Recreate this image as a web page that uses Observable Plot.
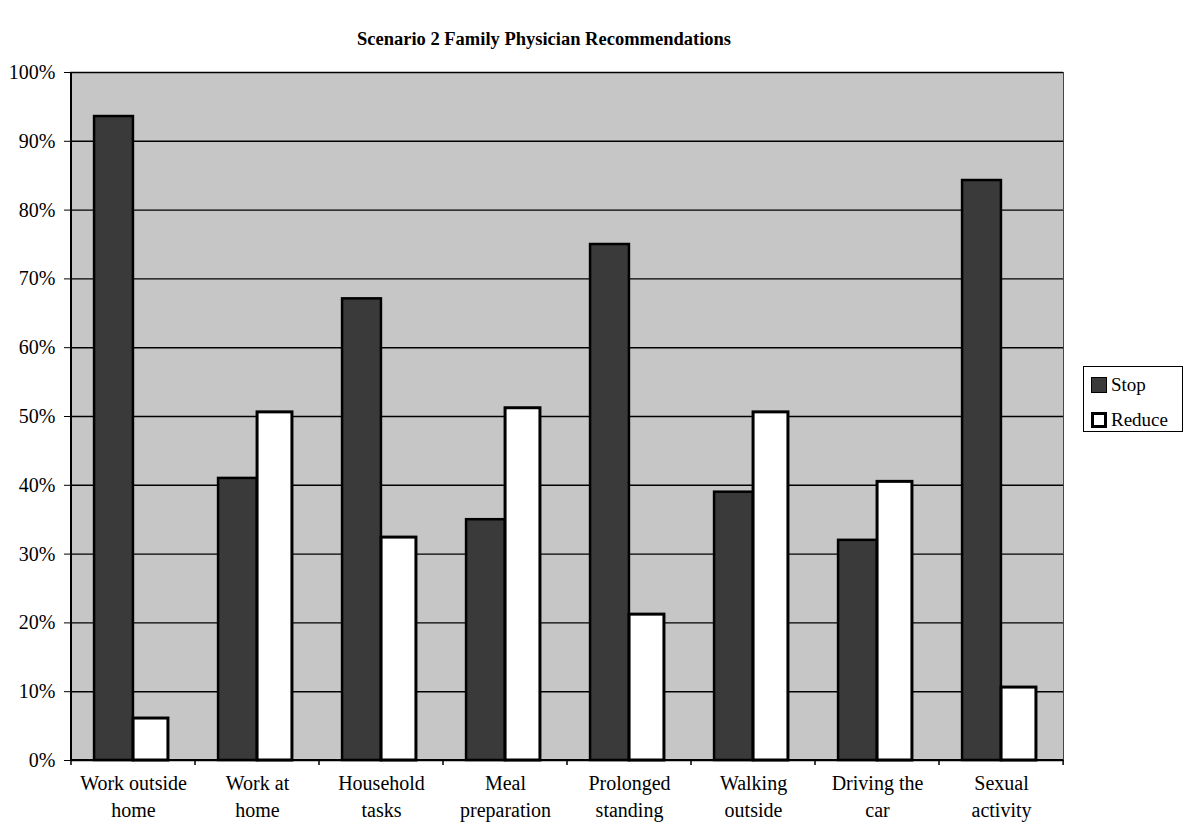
<!DOCTYPE html>
<html>
<head>
<meta charset="utf-8">
<script src="https://cdn.jsdelivr.net/npm/d3@7"></script>
<script src="https://cdn.jsdelivr.net/npm/@observablehq/plot@0.6"></script>
<style>
  body { margin: 0; background: #fff; font-family: "Liberation Serif", "Times New Roman", serif; color: #000; }
  #wrap { position: relative; width: 1191px; height: 834px; }
  #title { position: absolute; left: 0; width: 1088px; top: 29px; text-align: center; font-weight: bold; font-size: 18.5px; }
  #chart { position: absolute; top: 50px; left: 0; }
  #legend { position: absolute; left: 1083px; top: 366px; width: 100px; height: 66px; border: 1px solid #000; background: #fff; box-sizing: border-box; font-size: 19px; }
  .item { position: absolute; left: 7px; display: flex; align-items: center; line-height: 20px; }
  .sw { width: 16px; height: 16px; box-sizing: border-box; margin-right: 4px; }
</style>
</head>
<body>
<div id="wrap">
  <div id="title">Scenario 2 Family Physician Recommendations</div>
  <div id="chart"></div>
  <div id="legend"></div>
</div>
<script>
// Activities (x categories) and the share of physicians recommending each action
const categories = [
  "Work outside\nhome", "Work at\nhome", "Household\ntasks", "Meal\npreparation",
  "Prolonged\nstanding", "Walking\noutside", "Driving the\ncar", "Sexual\nactivity"
];
const stopValues   = [0.936, 0.410, 0.671, 0.350, 0.750, 0.390, 0.320, 0.843];
const reduceValues = [0.061, 0.506, 0.324, 0.512, 0.212, 0.506, 0.405, 0.106];
const seriesNames  = ["Stop", "Reduce"];
const seriesFills  = ["#3a3a3a", "#ffffff"];
const yTicks = [0, 0.1, 0.2, 0.3, 0.4, 0.5, 0.6, 0.7, 0.8, 0.9, 1.0];

const rows = categories.map((c, i) => ({category: c, stop: stopValues[i], reduce: reduceValues[i]}));

const W = 1191, H = 784, mL = 70, mR = 128, mT = 22, mB = 74;
const bw = (W - mL - mR) / categories.length;

// Axis lines plus tick marks on the category boundaries
function axisFrame(index, scales) {
  const {x, y} = scales;
  const g = d3.create("svg:g").attr("stroke", "#000").attr("fill", "none");
  const y0 = y(0), y1 = y(1);
  const edges = categories.map(c => x(c)).concat([x(categories[categories.length - 1]) + bw]);
  g.append("line").attr("x1", edges[0]).attr("x2", edges[0]).attr("y1", y1).attr("y2", y0).attr("stroke-width", 2);
  g.append("line").attr("x1", edges[0]).attr("x2", edges[edges.length - 1]).attr("y1", y0).attr("y2", y0).attr("stroke-width", 2);
  for (const e of edges) {
    g.append("line").attr("x1", e).attr("x2", e).attr("y1", y0).attr("y2", y0 + 5).attr("stroke-width", 1.5);
  }
  return g.node();
}

const chart = Plot.plot({
  width: W, height: H,
  marginLeft: mL, marginRight: mR, marginTop: mT, marginBottom: mB,
  style: {fontFamily: "'Liberation Serif', 'Times New Roman', serif", fontSize: "20px", color: "#000", background: "transparent", overflow: "visible"},
  x: {domain: categories, padding: 0},
  y: {domain: [0, 1]},
  marks: [
    Plot.frame({fill: "#c6c6c6", stroke: "#444", strokeWidth: 1}),
    Plot.gridY(yTicks, {stroke: "#000", strokeOpacity: 1, strokeWidth: 1.4}),
    Plot.barY(rows, {x: "category", y: "stop", fill: seriesFills[0], stroke: "#000", strokeWidth: 2.5,
      insetLeft: bw / 2 - 39, insetRight: bw / 2}),
    Plot.barY(rows, {x: "category", y: "reduce", fill: seriesFills[1], stroke: "#000", strokeWidth: 3,
      insetLeft: bw / 2, insetRight: bw / 2 - 35}),
    Plot.axisY(yTicks, {tickFormat: d3.format(".0%"), tickSize: 6, tickPadding: 9, stroke: "#000", label: null, fontSize: 20}),
    Plot.axisX({tickSize: 0, tickPadding: 10, label: null, lineHeight: 1.35, fontSize: 20}),
    axisFrame
  ]
});
document.getElementById("chart").append(chart);

// Legend
const legend = d3.select("#legend");
seriesNames.forEach((name, i) => {
  const it = legend.append("div").attr("class", "item").style("top", (i === 0 ? 8 : 43) + "px");
  it.append("div").attr("class", "sw")
    .style("background", seriesFills[i])
    .style("border", i === 0 ? "1px solid #000" : "3px solid #000");
  it.append("span").text(name);
});
</script>
</body>
</html>
